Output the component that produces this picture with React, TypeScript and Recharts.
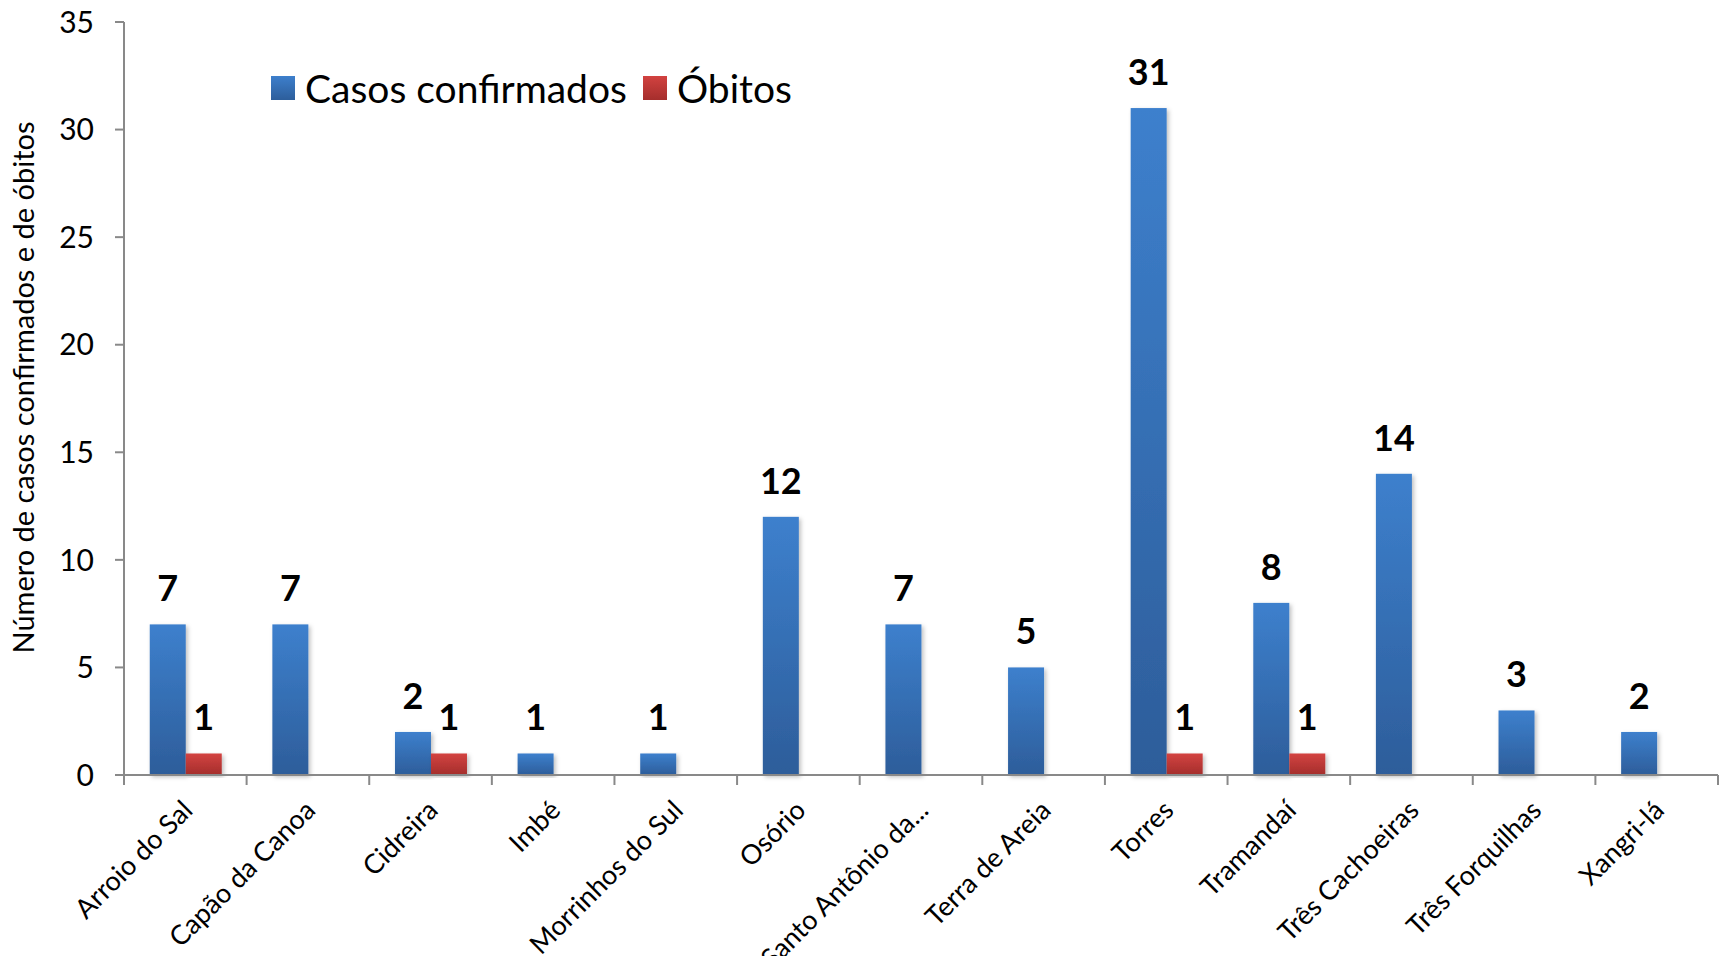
import React from 'react';
import { BarChart, Bar, XAxis, YAxis, Legend, LabelList } from 'recharts';

const municipios = [
  'Arroio do Sal',
  'Capão da Canoa',
  'Cidreira',
  'Imbé',
  'Morrinhos do Sul',
  'Osório',
  'Santo Antônio da...',
  'Terra de Areia',
  'Torres',
  'Tramandaí',
  'Três Cachoeiras',
  'Três Forquilhas',
  'Xangri-lá',
];
const casosConfirmados = [7, 7, 2, 1, 1, 12, 7, 5, 31, 8, 14, 3, 2];
const obitos = [1, null, 1, null, null, null, null, null, 1, 1, null, null, null];
const yTicks = [0, 5, 10, 15, 20, 25, 30, 35];

const data = municipios.map((nome, i) => ({
  nome,
  casos: casosConfirmados[i],
  obitos: obitos[i],
}));

const FONT = 'Lato, "Open Sans", sans-serif';
const AXIS_GRAY = '#898989';

const MunicipioTick = (props: any) => {
  const { x, y, payload, index, visibleTicksCount } = props;
  const half = payload.offset ?? 61.3;
  const last = index === visibleTicksCount - 1;
  const lx = x + 9;
  const ly = y + 37;
  return (
    <g>
      <line x1={x - half} y1={y} x2={x - half} y2={y + 10} stroke={AXIS_GRAY} strokeWidth={2} />
      {last && <line x1={x + half} y1={y} x2={x + half} y2={y + 10} stroke={AXIS_GRAY} strokeWidth={2} />}
      <text
        x={lx}
        y={ly}
        transform={`rotate(-45, ${lx}, ${ly})`}
        textAnchor="end"
        fontSize={27}
        fontFamily={FONT}
        fill="#000"
      >
        {payload.value}
      </text>
    </g>
  );
};

const ShadowBar = (props: any) => {
  const { x, y, width, height, fill } = props;
  if (!height || height <= 0) return null;
  return <rect x={x} y={y} width={width} height={height} fill={fill} filter="url(#barShadow)" />;
};

const ValueLabel = (props: any) => {
  const { x, y, width, value } = props;
  if (!value) return null;
  return (
    <text
      x={x + width / 2}
      y={y - 23}
      textAnchor="middle"
      fontSize={36}
      fontWeight={700}
      fontFamily={FONT}
      fill="#000"
    >
      {value}
    </text>
  );
};

const legendSwatch: Record<string, string> = {
  casos: 'linear-gradient(#3d7fcc, #2d5e9b)',
  obitos: 'linear-gradient(#d24240, #a52e2c)',
};

const LegendContent = (props: any) => {
  const { payload } = props;
  return (
    <div style={{ display: 'flex', alignItems: 'center', fontFamily: FONT, fontSize: 39, color: '#000', whiteSpace: 'nowrap' }}>
      {payload.map((item: any) => (
        <div key={item.dataKey} style={{ display: 'flex', alignItems: 'center', marginRight: 16 }}>
          <span style={{ width: 24, height: 24, background: legendSwatch[item.dataKey], marginRight: 10, display: 'inline-block' }} />
          <span>{item.value}</span>
        </div>
      ))}
    </div>
  );
};

export default function App() {
  return (
    <div style={{ position: 'absolute', left: 0, top: 0, background: '#fff' }}>
      <BarChart
        width={1721}
        height={956}
        data={data}
        margin={{ top: 22, right: 3, left: 0, bottom: 0 }}
        barCategoryGap="21%"
        barGap={0}
      >
        <defs>
          <linearGradient id="gradBlue" x1="0" y1="0" x2="0" y2="1">
            <stop offset="0%" stopColor="#3d80cd" />
            <stop offset="100%" stopColor="#2d5d9a" />
          </linearGradient>
          <linearGradient id="gradRed" x1="0" y1="0" x2="0" y2="1">
            <stop offset="0%" stopColor="#d34341" />
            <stop offset="100%" stopColor="#a42e2c" />
          </linearGradient>
          <filter id="barShadow" x="-20%" y="-5%" width="150%" height="115%">
            <feDropShadow dx="2" dy="2" stdDeviation="2" floodColor="#000" floodOpacity="0.25" />
          </filter>
        </defs>
        <XAxis
          dataKey="nome"
          interval={0}
          height={181}
          tickLine={false}
          tickSize={0}
          tickMargin={0}
          axisLine={{ stroke: AXIS_GRAY, strokeWidth: 2 }}
          tick={<MunicipioTick />}
        />
        <YAxis
          type="number"
          domain={[0, 35]}
          ticks={yTicks}
          width={124}
          tickSize={9}
          tickMargin={21}
          axisLine={{ stroke: AXIS_GRAY, strokeWidth: 2 }}
          tickLine={{ stroke: AXIS_GRAY, strokeWidth: 2 }}
          tick={{ fontSize: 30, fill: '#000', fontFamily: FONT }}
          label={{
            value: 'Número de casos confirmados e de óbitos',
            angle: -90,
            position: 'center',
            dx: -38,
            dy: -11,
            style: { fontSize: 29, fill: '#000', fontFamily: FONT },
          }}
        />
        <Legend
          layout="horizontal"
          verticalAlign="middle"
          align="center"
          content={<LegendContent />}
          wrapperStyle={{ top: 65, left: 271, width: 'auto' }}
        />
        <Bar dataKey="casos" name="Casos confirmados" fill="url(#gradBlue)" shape={<ShadowBar />} isAnimationActive={false}>
          <LabelList dataKey="casos" content={<ValueLabel />} />
        </Bar>
        <Bar dataKey="obitos" name="Óbitos" fill="url(#gradRed)" shape={<ShadowBar />} isAnimationActive={false}>
          <LabelList dataKey="obitos" content={<ValueLabel />} />
        </Bar>
      </BarChart>
    </div>
  );
}
